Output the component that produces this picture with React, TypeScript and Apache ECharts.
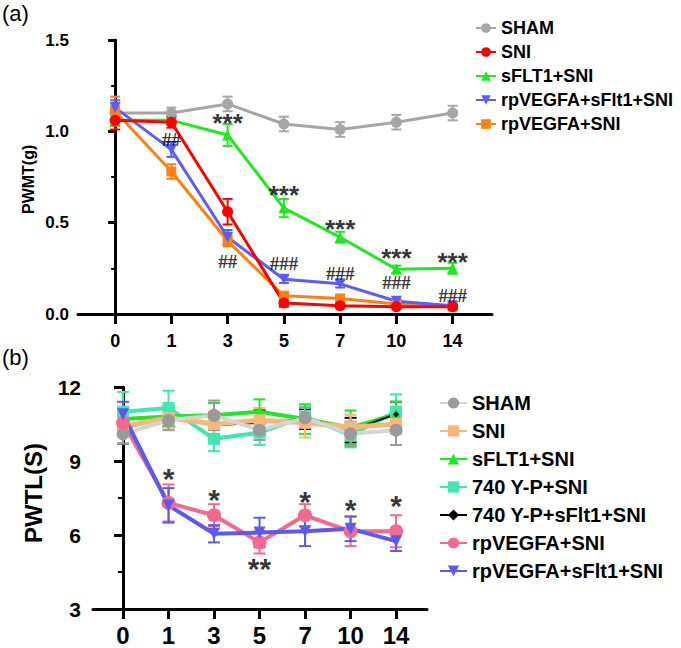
import React, { useEffect, useRef } from "react";
import * as echarts from "echarts";

// ---------- data ----------
const days = ["0", "1", "3", "5", "7", "10", "14"];

// Panel (a) PWMT(g)
const aNames = ["SHAM", "SNI", "sFLT1+SNI", "rpVEGFA+sFlt1+SNI", "rpVEGFA+SNI"];
const aSham = [1.1, 1.1, 1.15, 1.04, 1.01, 1.05, 1.1];
const aShamErr = [0.04, 0.03, 0.04, 0.04, 0.04, 0.04, 0.04];
const aSni = [1.06, 1.05, 0.56, 0.06, 0.045, 0.04, 0.04];
const aSniErr = [0.05, 0.03, 0.07, 0.02, 0.01, 0.01, 0.01];
const aFlt = [1.06, 1.06, 0.98, 0.58, 0.42, 0.245, 0.25];
const aFltErr = [0.03, 0.02, 0.06, 0.05, 0.03, 0.02, 0.03];
const aVegfFlt = [1.13, 0.9, 0.42, 0.19, 0.165, 0.07, 0.045];
const aVegfFltErr = [0.04, 0.04, 0.04, 0.02, 0.02, 0.01, 0.01];
const aVegf = [1.11, 0.78, 0.4, 0.1, 0.085, 0.055, 0.04];
const aVegfErr = [0.08, 0.04, 0.03, 0.02, 0.01, 0.01, 0.01];

// annotations panel (a): [dayIndex, value, text]
const aStars: [number, number, string][] = [
  [2, 1.045, "***"],
  [3, 0.651, "***"],
  [4, 0.467, "***"],
  [5, 0.308, "***"],
  [6, 0.285, "***"],
];
const aHashes: [number, number, string][] = [
  [1, 0.958, "##"],
  [2, 0.285, "##"],
  [3, 0.279, "###"],
  [4, 0.224, "###"],
  [5, 0.171, "###"],
  [6, 0.104, "###"],
];

// Panel (b) PWTL(S)
const bNames = [
  "SHAM",
  "SNI",
  "sFLT1+SNI",
  "740 Y-P+SNI",
  "740 Y-P+sFlt1+SNI",
  "rpVEGFA+SNI",
  "rpVEGFA+sFlt1+SNI",
];
const bSham = [10.1, 10.65, 10.85, 10.25, 10.75, 10.1, 10.25];
const bShamErr = [0.4, 0.4, 0.6, 0.4, 0.4, 0.5, 0.6];
const bSni = [10.4, 10.75, 10.5, 10.65, 10.55, 10.37, 10.5];
const bSniErr = [0.4, 0.4, 0.5, 0.5, 0.6, 0.5, 0.4];
const bFlt = [10.7, 10.8, 10.85, 11.0, 10.7, 10.35, 10.9];
const bFltErr = [0.4, 0.4, 0.5, 0.5, 0.6, 0.7, 0.5];
const bYp = [11.0, 11.15, 9.9, 10.15, 10.8, 10.05, 11.0];
const bYpErr = [0.8, 0.7, 0.5, 0.5, 0.4, 0.5, 0.7];
const bYpFlt = [10.3, 10.8, 10.45, 10.55, 10.7, 10.25, 10.9];
const bYpFltErr = [0.6, 0.4, 0.5, 0.5, 0.4, 0.5, 0.5];
const bVegf = [10.55, 7.3, 6.8, 5.7, 6.8, 6.15, 6.15];
const bVegfErr = [0.4, 0.75, 0.45, 0.45, 0.45, 0.6, 0.65];
const bVegfFlt = [10.9, 7.2, 6.05, 6.1, 6.15, 6.25, 5.75];
const bVegfFltErr = [0.5, 0.7, 0.35, 0.6, 0.6, 0.5, 0.4];

const bStars: [number, number, string][] = [
  [1, 8.28, "*"],
  [2, 7.43, "*"],
  [3, 4.63, "**"],
  [4, 7.34, "*"],
  [5, 7.03, "*"],
  [6, 7.2, "*"],
];

const aYTicks = [0, 0.5, 1.0, 1.5];
const bYTicks = [3, 6, 9, 12];
const aYTitle = "PWMT(g)";
const bYTitle = "PWTL(S)";

// ---------- helpers ----------
const FONT = "Liberation Sans, Arial, sans-serif";
const idx = days.map((_, i) => i);

function lineSeries(
  name: string,
  values: number[],
  grid: number,
  color: string,
  symbol: string,
  size: number,
  width: number,
  lineColor?: string,
  rotate = 0
) {
  return {
    type: "line",
    name,
    xAxisIndex: grid,
    yAxisIndex: grid,
    data: values.map((v, i) => [i, v]),
    symbol,
    symbolSize: size,
    symbolRotate: rotate,
    showAllSymbol: true,
    lineStyle: { color: lineColor || color, width },
    itemStyle: { color, borderWidth: 0 },
    emphasis: { disabled: true },
    z: 3,
  };
}

function errSeries(
  values: number[],
  errs: number[],
  grid: number,
  color: string,
  width: number,
  cap: number
) {
  return {
    type: "custom",
    xAxisIndex: grid,
    yAxisIndex: grid,
    data: values.map((v, i) => [i, v - errs[i], v + errs[i]]),
    encode: { x: 0, y: [1, 2] },
    z: 2,
    silent: true,
    renderItem: (params: any, api: any) => {
      const x = api.value(0);
      const top = api.coord([x, api.value(2)]);
      const bot = api.coord([x, api.value(1)]);
      const h = cap / 2;
      const style = { stroke: color, lineWidth: width, fill: "none" };
      return {
        type: "group",
        children: [
          { type: "line", shape: { x1: top[0], y1: top[1], x2: bot[0], y2: bot[1] }, style },
          { type: "line", shape: { x1: top[0] - h, y1: top[1], x2: top[0] + h, y2: top[1] }, style },
          { type: "line", shape: { x1: bot[0] - h, y1: bot[1], x2: bot[0] + h, y2: bot[1] }, style },
        ],
      };
    },
  };
}

function annoSeries(
  items: [number, number, string][],
  grid: number,
  fontSize: number,
  family: string,
  weight: string
) {
  return {
    type: "scatter",
    xAxisIndex: grid,
    yAxisIndex: grid,
    data: items.map((d) => [d[0], d[1], d[2]]),
    symbol: "circle",
    symbolSize: 1,
    itemStyle: { color: "rgba(0,0,0,0)" },
    silent: true,
    z: 5,
    label: {
      show: true,
      position: "inside",
      formatter: (p: any) => p.value[2],
      color: "#000",
      fontSize,
      fontFamily: family,
      fontWeight: weight,
    },
  };
}

function xAxis(grid: number, min: number, max: number, fontSize: number, margin: number, tickLen: number) {
  return {
    type: "value",
    gridIndex: grid,
    min,
    max,
    splitLine: { show: false },
    axisLine: { show: true, onZero: false, lineStyle: { color: "#000", width: 3 } },
    axisTick: {
      show: true,
      customValues: idx,
      length: tickLen,
      lineStyle: { color: "#000", width: 3 },
    },
    axisLabel: {
      show: true,
      customValues: idx,
      formatter: (v: number) => days[Math.round(v)] ?? "",
      color: "#000",
      fontSize,
      fontWeight: "bold",
      fontFamily: FONT,
      margin,
    },
  };
}

// rotated axis title, text starts at (x, y) and runs upwards
function rotatedTitle(text: string, x: number, y: number, fontSize: number) {
  return {
    type: "text",
    x,
    y,
    rotation: Math.PI / 2,
    style: {
      text,
      fontSize,
      fontWeight: "bold",
      fontFamily: FONT,
      fill: "#000",
      align: "left",
      verticalAlign: "middle",
    },
  };
}

const App: React.FC = () => {
  const ref = useRef<HTMLDivElement>(null);

  useEffect(() => {
    document.body.style.margin = "0";
    if (!ref.current) return;
    const chart = echarts.init(ref.current, undefined, { renderer: "svg" });

    const aColors = ["#a6a6a6", "#ff0000", "#1fe81f", "#5c5cf8", "#ff8010"];
    const bColors = ["#9a9a9a", "#f5b87a", "#1ee81e", "#3ee8b0", "#000000", "#f5688f", "#5a5af2"];

    const series: any[] = [
      // panel (a)
      errSeries(aSham, aShamErr, 0, aColors[0], 2, 10),
      lineSeries("a_" + aNames[0], aSham, 0, aColors[0], "circle", 11, 3),
      errSeries(aVegf, aVegfErr, 0, aColors[4], 2, 10),
      lineSeries("a_" + aNames[4], aVegf, 0, aColors[4], "rect", 10, 3),
      errSeries(aVegfFlt, aVegfFltErr, 0, aColors[3], 2, 10),
      lineSeries("a_" + aNames[3], aVegfFlt, 0, aColors[3], "triangle", 11, 3, undefined, 180),
      errSeries(aFlt, aFltErr, 0, aColors[2], 2, 10),
      lineSeries("a_" + aNames[2], aFlt, 0, aColors[2], "triangle", 11, 3),
      errSeries(aSni, aSniErr, 0, aColors[1], 2, 10),
      lineSeries("a_" + aNames[1], aSni, 0, aColors[1], "circle", 11, 3),
      annoSeries(aStars, 0, 26, FONT, "bold"),
      annoSeries(aHashes, 0, 19, "Liberation Serif, Times New Roman, serif", "bold"),
      // panel (b)
      errSeries(bYpFlt, bYpFltErr, 1, bColors[4], 2, 12),
      errSeries(bYp, bYpErr, 1, bColors[3], 2, 12),
      errSeries(bFlt, bFltErr, 1, bColors[2], 2, 12),
      errSeries(bSni, bSniErr, 1, bColors[1], 2, 12),
      errSeries(bSham, bShamErr, 1, bColors[0], 2, 12),
      lineSeries("b_" + bNames[3], bYp, 1, bColors[3], "rect", 12, 4),
      lineSeries("b_" + bNames[2], bFlt, 1, bColors[2], "triangle", 11, 4),
      lineSeries("b_" + bNames[4], bYpFlt, 1, bColors[4], "diamond", 6, 2),
      lineSeries("b_" + bNames[1], bSni, 1, bColors[1], "rect", 12, 5),
      lineSeries("b_" + bNames[0], bSham, 1, bColors[0], "circle", 13, 4, "#d4d4d4"),
      errSeries(bVegf, bVegfErr, 1, bColors[5], 2, 12),
      errSeries(bVegfFlt, bVegfFltErr, 1, bColors[6], 2, 12),
      lineSeries("b_" + bNames[5], bVegf, 1, bColors[5], "circle", 14, 4),
      lineSeries("b_" + bNames[6], bVegfFlt, 1, bColors[6], "triangle", 12, 4, undefined, 180),
      annoSeries(bStars, 1, 30, FONT, "bold"),
    ];

    chart.setOption({
      animation: false,
      backgroundColor: "#ffffff",
      textStyle: { fontFamily: FONT },
      grid: [
        { left: 78, top: 40, width: 414, height: 274, containLabel: false },
        { left: 93, top: 387, width: 334, height: 222, containLabel: false },
      ],
      xAxis: [xAxis(0, -0.66, 6.7, 18, 18, 10), xAxis(1, -0.66, 6.68, 24, 14, 10)],
      yAxis: [
        {
          type: "value",
          gridIndex: 0,
          min: aYTicks[0],
          max: aYTicks[aYTicks.length - 1],
          interval: 0.5,
          splitLine: { show: false },
          axisLine: { show: true, lineStyle: { color: "#000", width: 3 } },
          axisTick: { show: true, length: 7, lineStyle: { color: "#000", width: 3 } },
          minorTick: { show: true, splitNumber: 2, length: 4, lineStyle: { color: "#000", width: 2 } },
          axisLabel: {
            formatter: (v: number) => v.toFixed(1),
            color: "#000",
            fontSize: 17,
            fontWeight: "bold",
            fontFamily: FONT,
            margin: 9,
          },
        },
        {
          type: "value",
          gridIndex: 1,
          min: bYTicks[0],
          max: bYTicks[bYTicks.length - 1],
          interval: 3,
          splitLine: { show: false },
          axisLine: { show: true, lineStyle: { color: "#000", width: 3 } },
          axisTick: { show: true, length: 9, lineStyle: { color: "#000", width: 3 } },
          minorTick: { show: true, splitNumber: 2, length: 5, lineStyle: { color: "#000", width: 2 } },
          axisLabel: {
            color: "#000",
            fontSize: 21,
            fontWeight: "bold",
            fontFamily: FONT,
            margin: 12,
          },
        },
      ],
      legend: [
        {
          data: aNames.map((n) => "a_" + n),
          orient: "vertical",
          left: 470,
          top: 14,
          itemWidth: 20,
          itemHeight: 12,
          itemGap: 6,
          selectedMode: false,
          formatter: (n: string) => n.replace(/^a_/, ""),
          textStyle: { fontSize: 18, fontWeight: "bold", color: "#000", fontFamily: FONT },
        },
        {
          data: bNames.map((n) => "b_" + n),
          orient: "vertical",
          left: 434,
          top: 388,
          itemWidth: 27,
          itemHeight: 14,
          itemGap: 8,
          selectedMode: false,
          formatter: (n: string) => n.replace(/^b_/, ""),
          textStyle: { fontSize: 20, fontWeight: "bold", color: "#000", fontFamily: FONT },
        },
      ],
      graphic: [
        { type: "text", left: 2, top: 2, style: { text: "(a)", fontSize: 22, fontFamily: FONT, fill: "#000" } },
        { type: "text", left: 2, top: 346, style: { text: "(b)", fontSize: 22, fontFamily: FONT, fill: "#000" } },
        rotatedTitle(aYTitle, 28, 214, 16),
        rotatedTitle(bYTitle, 33, 543, 24),
      ],
      series,
    });

    return () => chart.dispose();
  }, []);

  return <div ref={ref} style={{ width: 681, height: 648 }} />;
};

export default App;
